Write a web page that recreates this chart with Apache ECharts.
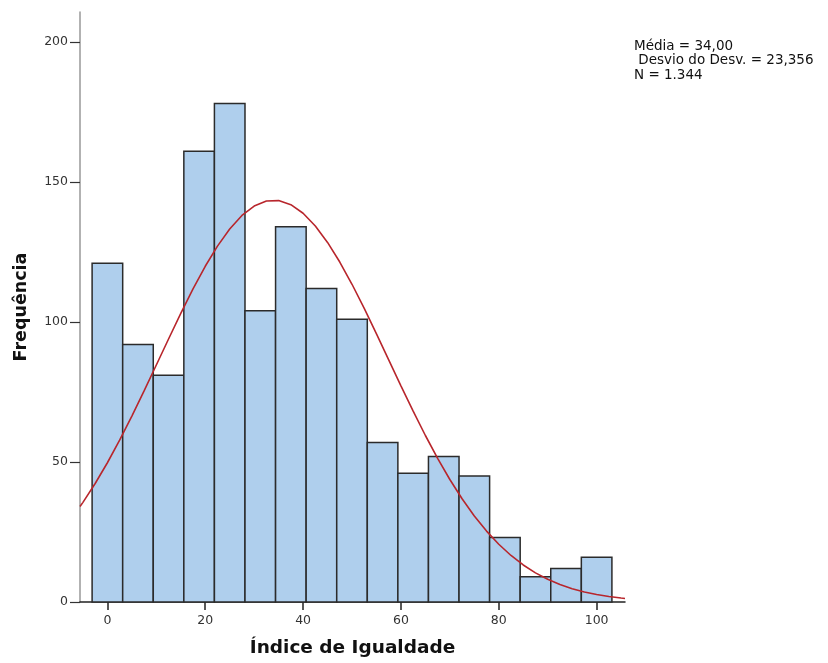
<!DOCTYPE html>
<html>
<head>
<meta charset="utf-8">
<script src="https://cdn.jsdelivr.net/npm/echarts@6/dist/echarts.min.js"></script>
<style>
html,body{margin:0;padding:0;background:#fff;}
#chart{width:828px;height:663px;}
</style>
</head>
<body>
<div id="chart"></div>
<script>
// Histogram bins (centers) and counts
var binCenters = [0, 6.25, 12.5, 18.75, 25, 31.25, 37.5, 43.75, 50, 56.25, 62.5, 68.75, 75, 81.25, 87.5, 93.75, 100];
var binCounts = [121, 92, 81, 161, 178, 104, 134, 112, 101, 57, 46, 52, 45, 23, 9, 12, 16];
var binWidth = 6.25;

// Normal curve points (x, frequency)
var curveX = [-5.6, -5, -2.5, 0, 2.5, 5, 7.5, 10, 12.5, 15, 17.5, 20, 22.5, 25, 27.5, 30, 32.5, 35, 37.5, 40, 42.5, 45, 47.5, 50, 52.5, 55, 57.5, 60, 62.5, 65, 67.5, 70, 72.5, 75, 77.5, 80, 82.5, 85, 87.5, 90, 92.5, 95, 97.5, 100, 102.5, 105, 105.8];
var curveY = [34.08, 35.59, 42.31, 49.73, 57.78, 66.38, 75.38, 84.63, 93.93, 103.06, 111.79, 119.89, 127.10, 133.21, 138.03, 141.39, 143.18, 143.35, 141.88, 138.82, 134.29, 128.42, 121.41, 113.47, 104.85, 95.77, 86.49, 77.21, 68.15, 59.46, 51.29, 43.74, 36.88, 30.73, 25.32, 20.63, 16.61, 13.23, 10.41, 8.10, 6.23, 4.74, 3.56, 2.65, 1.95, 1.41, 1.27];

// Tick labels
var xTicks = [0, 20, 40, 60, 80, 100];
var yTicks = [0, 50, 100, 150, 200];

var statsLines = ['Média = 34,00', ' Desvio do Desv. = 23,356', 'N = 1.344'];
var xTitle = 'Índice de Igualdade';
var yTitle = 'Frequência';

var chart = echarts.init(document.getElementById('chart'));

var barData = binCenters.map(function (c, i) { return [c, binCounts[i]]; });
var curveData = curveX.map(function (x, i) { return [x, curveY[i]]; });

var labelFont = 'DejaVu Sans';

chart.setOption({
  animation: false,
  backgroundColor: '#ffffff',
  grid: { left: 80, top: 12, right: 203, bottom: 60 },
  xAxis: {
    type: 'value',
    min: -5.6,
    max: 105.8,
    name: xTitle,
    nameLocation: 'middle',
    nameGap: 37,
    nameTextStyle: { fontFamily: labelFont, fontWeight: 'bold', fontSize: 18.5, color: '#111' },
    axisLine: { show: true, onZero: false, lineStyle: { color: '#222', width: 1.5 } },
    axisTick: { show: true, customValues: xTicks, length: 8, lineStyle: { color: '#222', width: 1.5 } },
    axisLabel: { customValues: xTicks, fontFamily: labelFont, fontSize: 12.5, color: '#333', margin: 12 },
    splitLine: { show: false }
  },
  yAxis: {
    type: 'value',
    min: 0,
    max: 210.7,
    name: yTitle,
    nameLocation: 'middle',
    nameRotate: 90,
    nameGap: 50,
    nameTextStyle: { fontFamily: labelFont, fontWeight: 'bold', fontSize: 17.5, color: '#111' },
    axisLine: { show: true, onZero: false, lineStyle: { color: '#999', width: 1.5 } },
    axisTick: { show: true, customValues: yTicks, length: 10, lineStyle: { color: '#333', width: 1.2 } },
    axisLabel: { customValues: yTicks, fontFamily: labelFont, fontSize: 12.5, color: '#333', margin: 12 },
    splitLine: { show: false }
  },
  series: [
    {
      type: 'custom',
      data: barData,
      encode: { x: 0, y: 1 },
      renderItem: function (params, api) {
        var c = api.value(0), v = api.value(1);
        var p0 = api.coord([c - binWidth / 2, v]);
        var p1 = api.coord([c + binWidth / 2, 0]);
        return {
          type: 'rect',
          shape: { x: p0[0], y: p0[1], width: p1[0] - p0[0], height: p1[1] - p0[1] },
          style: { fill: '#afcfed', stroke: '#2b2b2b', lineWidth: 1.5 }
        };
      },
      z: 2
    },
    {
      type: 'line',
      data: curveData,
      smooth: false,
      showSymbol: false,
      lineStyle: { color: '#b8262c', width: 1.6 },
      z: 3
    }
  ],
  graphic: statsLines.map(function (t, i) {
    return {
      type: 'text',
      left: 634,
      top: 39 + i * 14.5,
      style: { text: t, fontFamily: 'DejaVu Sans', fontSize: 13.5, fill: '#111' }
    };
  })
});
</script>
</body>
</html>
